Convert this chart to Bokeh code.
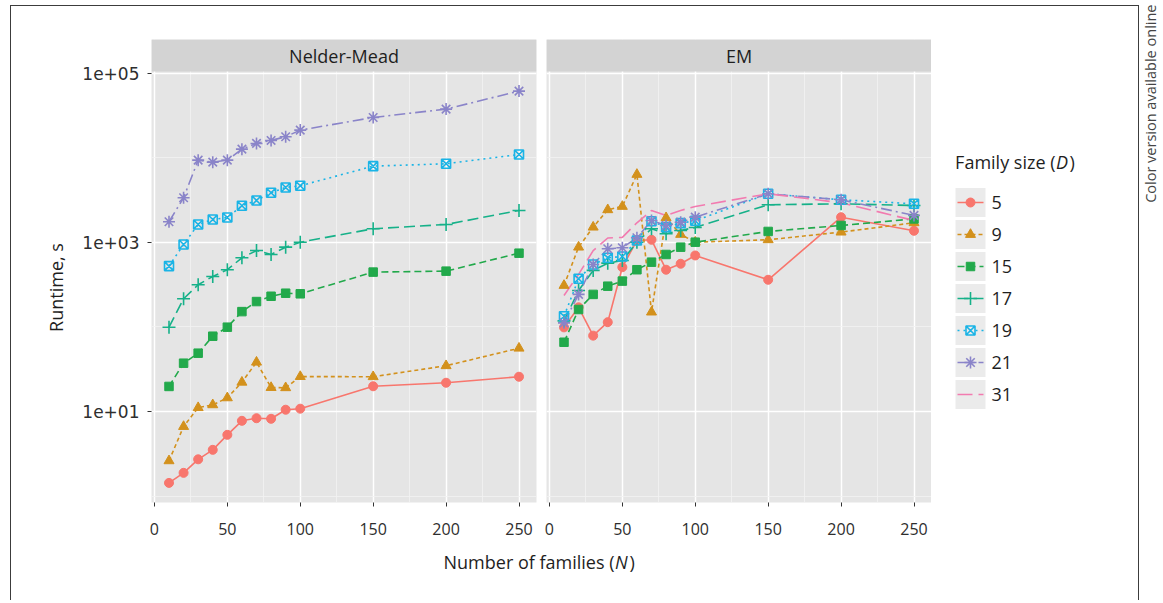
import math
from bokeh.plotting import figure
from bokeh.models import Range1d, FixedTicker, CustomJSTickFormatter, Label
from bokeh.layouts import row, column
from bokeh.embed import file_html
from bokeh.resources import INLINE

# ---------------- data ----------------
N = [10, 20, 30, 40, 50, 60, 70, 80, 90, 100, 150, 200, 250]
FAMILY_SIZES = ["5", "9", "15", "17", "19", "21", "31"]
X_TICKS = [0, 50, 100, 150, 200, 250]
Y_TICKS = [1e1, 1e3, 1e5]

# Nelder-Mead runtimes (s)
nm_d5 = [1.43, 1.88, 2.72, 3.52, 5.3, 7.76, 8.33, 8.2, 10.5, 10.8, 19.9, 21.9, 25.8]
nm_d9 = [2.61, 6.64, 11.1, 12.0, 14.5, 22.2, 38.3, 19.2, 19.1, 25.9, 25.8, 34.8, 56.1]
nm_d15 = [19.8, 37.3, 49.0, 77.8, 99.5, 152, 200, 231, 251, 247, 446, 458, 747]
nm_d17 = [99.5, 216, 316, 396, 476, 659, 803, 721, 880, 1008, 1453, 1633, 2393]
nm_d19 = [525, 947, 1634, 1871, 1976, 2719, 3140, 3874, 4477, 4688, 8000, 8530, 10990]
nm_d21 = [1758, 3383, 9420, 8920, 9420, 12710, 14850, 16110, 17830, 21340, 30140, 37830, 61800]

# EM runtimes (s)
em_d5 = [99, 171, 79, 114, 510, 1056, 1076, 476, 560, 702, 362, 1991, 1375]
em_d9 = [310, 880, 1517, 2437, 2668, 6380, 150, 1960, 1244, 1008, 1076, 1325, 1710]
em_d15 = [66, 161, 243, 304, 349, 476, 585, 721, 880, 1008, 1350, 1589, 1900]
em_d17 = [118, 270, 467, 569, 612, 1008, 1452, 1268, 1387, 1505, 2790, 2870, 2740]
em_d19 = [134, 372, 549, 659, 682, 1056, 1786, 1517, 1692, 1806, 3767, 3200, 2870]
em_d21 = [112, 243, 549, 842, 865, 1137, 1820, 1589, 1738, 1992, 3767, 3200, 2090]
em_d31 = [236, 420, 800, 1130, 1150, 1710, 2390, 2090, 2390, 2670, 3767, 2950, 1820]

nelder_mead = {"5": nm_d5, "9": nm_d9, "15": nm_d15, "17": nm_d17, "19": nm_d19, "21": nm_d21}
em = {"5": em_d5, "9": em_d9, "15": em_d15, "17": em_d17, "19": em_d19, "21": em_d21, "31": em_d31}

# ---------------- style ----------------
COLORS = {"5": "#F8766D", "9": "#D3911C", "15": "#22A94B", "17": "#16B189",
          "19": "#1AB4E6", "21": "#8A84C9", "31": "#F27BB0"}
DASHES = {"5": "solid", "9": "4 3", "15": "7 4", "17": "11 5", "19": "2 4",
          "21": "11 4 2 4", "31": "15 6"}
MARKERS = {"5": ("circle", 9, True), "9": ("triangle", 10, True), "15": ("square", 8.5, True),
           "17": ("cross", 13, False), "19": ("square_x", 9, False),
           "21": ("asterisk", 12, False), "31": None}

PANEL_BG = "#E5E5E5"
STRIP_BG = "#D3D3D3"
TEXT = "#1e1e1e"
TICK_TXT = "#2e2e2e"
FONT = "Open Sans"

all_vals = [v for s in list(nelder_mead.values()) + list(em.values()) for v in s]
lo, hi = math.log10(min(all_vals)), math.log10(max(all_vals))
pad = 0.05 * (hi - lo)
Y_LO, Y_HI = 10 ** (lo - pad), 10 ** (hi + pad)
xpad = 0.05 * (max(N) - min(N))
X_LO, X_HI = min(N) - xpad, max(N) + xpad

FRAME_W, PANEL_H, STRIP_H = 385, 431, 32
B_TOP, B_BOTTOM = 33, 43
FRAME_H = PANEL_H + STRIP_H
# the strip sits on top of the panel inside the same frame
dec_per_px = (math.log10(Y_HI) - math.log10(Y_LO)) / PANEL_H
Y_TOP = 10 ** (math.log10(Y_HI) + STRIP_H * dec_per_px)

# page coordinates of the frame (content box starts at page y = 6)
PAGE_TOP = 6 + B_TOP
PAGE_BOTTOM = PAGE_TOP + FRAME_H


def panel(series, title, b_left, b_right, with_y):
    p = figure(frame_width=FRAME_W, frame_height=FRAME_H,
               min_border_left=b_left, min_border_right=b_right,
               min_border_top=B_TOP, min_border_bottom=B_BOTTOM,
               x_range=Range1d(X_LO, X_HI), y_range=Range1d(Y_LO, Y_TOP),
               y_axis_type="log", output_backend="svg", toolbar_location=None,
               background_fill_color=PANEL_BG, border_fill_color="white",
               outline_line_color=None)
    p.xaxis.ticker = FixedTicker(ticks=X_TICKS,
                                 minor_ticks=[(a + b) / 2 for a, b in zip(X_TICKS[:-1], X_TICKS[1:])])
    p.yaxis.ticker = FixedTicker(ticks=Y_TICKS, minor_ticks=[t / 10 for t in Y_TICKS])
    p.yaxis.formatter = CustomJSTickFormatter(
        code="return tick.toExponential(0).replace('e+', 'e+0');")
    p.grid.grid_line_color = "white"
    p.grid.grid_line_width = 1.5
    p.grid.minor_grid_line_color = "#F3F3F3"
    p.grid.minor_grid_line_width = 0.8
    for ax in p.axis:
        ax.axis_line_color = None
        ax.major_tick_line_color = "#333333"
        ax.major_tick_out = 4
        ax.major_tick_in = 0
        ax.minor_tick_out = 0
        ax.minor_tick_in = 0
    p.xaxis.major_label_text_font = FONT
    p.xaxis.major_label_text_font_size = "16px"
    p.xaxis.major_label_text_color = TICK_TXT
    p.xaxis.major_label_standoff = 16
    p.yaxis.major_label_text_font = "DejaVu Sans"
    p.yaxis.major_label_text_font_size = "17px"
    p.yaxis.major_label_text_color = TICK_TXT
    p.yaxis.major_label_standoff = 8
    if not with_y:
        p.yaxis.visible = False

    # facet strip
    p.quad(left=X_LO, right=X_HI, bottom=Y_HI, top=Y_TOP, fill_color=STRIP_BG, line_color=None)
    p.add_layout(Label(x=(X_LO + X_HI) / 2, y=math.sqrt(Y_HI * Y_TOP), text=title,
                       text_align="center", text_baseline="middle", text_font=FONT,
                       text_font_size="18px", text_color=TEXT))

    for d, ys in series.items():
        p.line(N, ys, line_color=COLORS[d], line_width=1.6, line_dash=DASHES[d])
    for d, ys in series.items():
        m = MARKERS[d]
        if m is None:
            continue
        mk, size, filled = m
        if filled:
            p.scatter(N, ys, marker=mk, size=size, fill_color=COLORS[d], line_color=COLORS[d])
        else:
            p.scatter(N, ys, marker=mk, size=size, fill_color=None, line_color=COLORS[d],
                      line_width=1.6)
    return p


def aux(x0, x1):
    """Blank figure aligned with the panels' frames, in page pixel coordinates."""
    f = figure(frame_width=x1 - x0, frame_height=FRAME_H, min_border_left=0, min_border_right=0,
               min_border_top=B_TOP, min_border_bottom=B_BOTTOM,
               x_range=Range1d(x0, x1), y_range=Range1d(PAGE_BOTTOM, PAGE_TOP),
               x_axis_type=None, y_axis_type=None, output_backend="svg",
               toolbar_location=None, background_fill_color="white", border_fill_color="white",
               outline_line_color=None)
    f.grid.visible = False
    return f


def blank(w, h, yflip=True):
    f = figure(width=w, height=h, x_range=Range1d(0, w),
               y_range=Range1d(h, 0) if yflip else Range1d(0, h),
               x_axis_type=None, y_axis_type=None, min_border=0, output_backend="svg",
               toolbar_location=None, background_fill_color="white", border_fill_color="white",
               outline_line_color=None)
    f.grid.visible = False
    return f


figL = panel(nelder_mead, "Nelder-Mead", 80, 5, True)
figR = panel(em, "EM", 5, 0, False)

# ---------------- y-axis title ----------------
yt = aux(11, 71)
yt.add_layout(Label(x=55, y=287, text="Runtime, s", angle=math.pi / 2, text_align="center",
                    text_baseline="middle", text_font=FONT, text_font_size="18px",
                    text_color=TEXT))

# ---------------- legend ----------------
leg = aux(931, 1138)
leg.add_layout(Label(x=1055, y=161, text="Family size (", text_align="right",
                     text_baseline="middle", text_font=FONT, text_font_size="18px",
                     text_color=TEXT))
leg.add_layout(Label(x=1055.5, y=161, text="D", text_align="left", text_baseline="middle",
                     text_font=FONT, text_font_size="18px", text_font_style="italic",
                     text_color=TEXT))
leg.add_layout(Label(x=1069, y=161, text=")", text_align="left", text_baseline="middle",
                     text_font=FONT, text_font_size="18px", text_color=TEXT))
KEY_X, KEY_Y0, KEY_STEP, KEY_HALF = 970, 202, 32, 14.5
for i, d in enumerate(FAMILY_SIZES):
    cy = KEY_Y0 + i * KEY_STEP
    leg.quad(left=KEY_X - 15, right=KEY_X + 15, top=cy - KEY_HALF, bottom=cy + KEY_HALF,
             fill_color="#EBEBEB", line_color=None)
    leg.line([KEY_X - 13, KEY_X + 13], [cy, cy], line_color=COLORS[d], line_width=1.6,
             line_dash=DASHES[d])
    m = MARKERS[d]
    if m is not None:
        mk, size, filled = m
        if filled:
            leg.scatter([KEY_X], [cy], marker=mk, size=size, fill_color=COLORS[d],
                        line_color=COLORS[d])
        else:
            leg.scatter([KEY_X], [cy], marker=mk, size=size, fill_color=None,
                        line_color=COLORS[d], line_width=1.6)
    leg.add_layout(Label(x=991, y=cy, text=d, text_align="left", text_baseline="middle",
                         text_font=FONT, text_font_size="18px", text_color=TEXT))

# ---------------- x-axis title ----------------
XT_W, XT_H = 1127, 55
xt = blank(XT_W, XT_H)
xt.add_layout(Label(x=603, y=16, text="Number of families (", text_align="right",
                    text_baseline="middle", text_font=FONT, text_font_size="18px",
                    text_color=TEXT))
xt.add_layout(Label(x=603.5, y=16, text="N", text_align="left", text_baseline="middle",
                    text_font=FONT, text_font_size="18px", text_font_style="italic",
                    text_color=TEXT))
xt.add_layout(Label(x=618, y=16, text=")", text_align="left", text_baseline="middle",
                    text_font=FONT, text_font_size="18px", text_color=TEXT))

# ---------------- side note ----------------
cv = blank(24, 600, yflip=False)
cv.add_layout(Label(x=11, y=596, text="Color version available online", angle=math.pi / 2,
                    text_align="right", text_baseline="middle", text_font=FONT,
                    text_font_size="14.5px", text_color="#444444"))

inner = column(
    row(yt, figL, figR, leg),
    xt,
    margin=(5, 0, 0, 10),
    styles={"border-left": "1px solid #3c3c3c", "border-top": "1px solid #3c3c3c",
            "border-right": "1px solid #3c3c3c"},
)
layout = row(inner, cv)

with open("out.html", "w") as f:
    f.write(file_html(layout, INLINE, title="Runtime"))
